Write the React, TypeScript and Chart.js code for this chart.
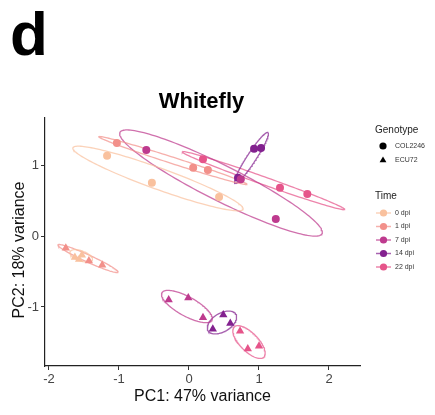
import { useEffect, useRef } from 'react';
import { Chart, registerables } from 'chart.js';

Chart.register(...registerables);

const FONT = '"Liberation Sans", Arial, Helvetica, sans-serif';

// Sampling times and their colours
const times = ['0 dpi', '1 dpi', '7 dpi', '14 dpi', '22 dpi'];
const timeColors = ['#F9C19E', '#F2908A', '#BE3A8E', '#83218F', '#E6548A'];

// Genotypes and the marker used for each
const genotypes = ['COL2246', 'ECU72'];
const genotypeMarkers = ['circle', 'triangle'];

// PCA scores [PC1, PC2], one list per time point
const col2246Scores = [
  [[-1.17, 1.13], [-0.53, 0.75], [0.43, 0.55]],
  [[-1.03, 1.31], [0.06, 0.96], [0.27, 0.93]],
  [[-0.61, 1.21], [0.74, 0.8], [1.24, 0.24]],
  [[0.7, 0.82], [0.93, 1.23], [1.03, 1.24]],
  [[0.2, 1.08], [1.3, 0.68], [1.69, 0.59]],
];
const ecu72Scores = [
  [[-1.63, -0.3], [-1.53, -0.27], [-1.57, -0.33]],
  [[-1.76, -0.17], [-1.43, -0.35], [-1.24, -0.41]],
  [[-0.29, -0.9], [-0.01, -0.87], [0.2, -1.15]],
  [[0.34, -1.31], [0.49, -1.11], [0.59, -1.23]],
  [[0.73, -1.34], [0.84, -1.59], [1.0, -1.55]],
];

// Confidence ellipses [centre PC1, centre PC2, semi-major, semi-minor, angle in degrees]
const col2246Ellipses = [
  [-0.443, 0.81, 1.29, 0.15, -19.6],
  [-0.23, 1.063, 1.11, 0.045, -17.6],
  [0.457, 0.746, 1.61, 0.25, -26.3],
  [0.893, 1.1, 0.43, 0.065, 56.6],
  [1.064, 0.78, 1.23, 0.055, -19.3],
];
const ecu72Ellipses = [
  [-1.54, -0.28, 0.17, 0.07, -20],
  [-1.443, -0.317, 0.47, 0.05, -24.2],
  [-0.03, -0.993, 0.406, 0.136, -28.4],
  [0.471, -1.218, 0.23, 0.13, 30],
  [0.857, -1.493, 0.3, 0.13, -45],
];

// Axes
const xTicks = [-2, -1, 0, 1, 2];
const yTicks = [-1, 0, 1];
const xRange = [-2.057, 2.443];
const yRange = [-1.831, 1.662];

const titleText = 'Whitefly';
const panelLetter = 'd';
const xTitle = 'PC1: 47% variance';
const yTitle = 'PC2: 18% variance';

function withAlpha(hex: string, a: number) {
  const n = parseInt(hex.slice(1), 16);
  return `rgba(${(n >> 16) & 255},${(n >> 8) & 255},${n & 255},${a})`;
}

function ellipseOutline(e: number[]) {
  const [cx, cy, a, b, deg] = e;
  const th = (deg * Math.PI) / 180;
  const pts: { x: number; y: number }[] = [];
  const steps = 160;
  for (let i = 0; i <= steps; i++) {
    const t = (i / steps) * Math.PI * 2;
    pts.push({
      x: cx + a * Math.cos(t) * Math.cos(th) - b * Math.sin(t) * Math.sin(th),
      y: cy + a * Math.cos(t) * Math.sin(th) + b * Math.sin(t) * Math.cos(th),
    });
  }
  return pts;
}

function drawMarker(ctx: CanvasRenderingContext2D, kind: string, x: number, y: number, r: number) {
  ctx.beginPath();
  if (kind === 'circle') {
    ctx.arc(x, y, r, 0, Math.PI * 2);
  } else {
    ctx.moveTo(x, y - r);
    ctx.lineTo(x + r * 0.95, y + r * 0.6);
    ctx.lineTo(x - r * 0.95, y + r * 0.6);
    ctx.closePath();
  }
  ctx.fill();
}

const annotations = {
  id: 'annotations',
  afterDraw(chart: any) {
    const ctx: CanvasRenderingContext2D = chart.ctx;
    ctx.save();
    ctx.textBaseline = 'alphabetic';

    // panel letter
    ctx.fillStyle = '#000';
    ctx.textAlign = 'left';
    ctx.font = `bold 62px ${FONT}`;
    ctx.fillText(panelLetter, 10, 55);

    // plot title
    ctx.textAlign = 'center';
    ctx.font = `bold 22px ${FONT}`;
    ctx.fillText(titleText, 201.5, 108);

    // axis titles
    ctx.font = `16px ${FONT}`;
    ctx.fillStyle = '#111';
    ctx.fillText(xTitle, (chart.chartArea.left + chart.chartArea.right) / 2, 401);
    ctx.save();
    ctx.translate(24, 250);
    ctx.rotate(-Math.PI / 2);
    ctx.fillText(yTitle, 0, 0);
    ctx.restore();

    // legend: genotype
    const lx = 375;
    ctx.textAlign = 'left';
    ctx.fillStyle = '#222';
    ctx.font = `10px ${FONT}`;
    ctx.fillText('Genotype', lx, 133);
    ctx.font = `7px ${FONT}`;
    genotypes.forEach((g, i) => {
      const y = 146 + i * 14;
      ctx.fillStyle = '#000';
      drawMarker(ctx, genotypeMarkers[i], lx + 8, y, 3.6);
      ctx.fillStyle = '#333';
      ctx.textBaseline = 'middle';
      ctx.fillText(g, lx + 20, y);
      ctx.textBaseline = 'alphabetic';
    });

    // legend: time
    ctx.fillStyle = '#222';
    ctx.font = `10px ${FONT}`;
    ctx.fillText('Time', lx, 199);
    ctx.font = `7px ${FONT}`;
    times.forEach((t, i) => {
      const y = 213 + i * 13.5;
      ctx.strokeStyle = withAlpha(timeColors[i], 0.7);
      ctx.lineWidth = 1.5;
      ctx.beginPath();
      ctx.moveTo(lx + 1, y);
      ctx.lineTo(lx + 16, y);
      ctx.stroke();
      ctx.fillStyle = timeColors[i];
      drawMarker(ctx, 'circle', lx + 8.5, y, 3.6);
      ctx.fillStyle = '#333';
      ctx.textBaseline = 'middle';
      ctx.fillText(t, lx + 20, y);
      ctx.textBaseline = 'alphabetic';
    });
    ctx.restore();
  },
};

export default function App() {
  const ref = useRef<HTMLCanvasElement>(null);

  useEffect(() => {
    if (!ref.current) return;
    const datasets: any[] = [];
    const groups = [
      { scores: col2246Scores, ellipses: col2246Ellipses, marker: genotypeMarkers[0], r: 4 },
      { scores: ecu72Scores, ellipses: ecu72Ellipses, marker: genotypeMarkers[1], r: 4.8 },
    ];
    groups.forEach((g, gi) => {
      times.forEach((t, ti) => {
        datasets.push({
          label: `${genotypes[gi]} ${t}`,
          data: g.scores[ti].map(([x, y]) => ({ x, y })),
          pointStyle: g.marker,
          pointRadius: g.r,
          backgroundColor: timeColors[ti],
          borderColor: timeColors[ti],
          borderWidth: 0,
          showLine: false,
          order: 0,
        });
        datasets.push({
          label: `${genotypes[gi]} ${t} ellipse`,
          data: ellipseOutline(g.ellipses[ti]),
          showLine: true,
          pointRadius: 0,
          borderColor: withAlpha(timeColors[ti], 0.72),
          borderWidth: 1.3,
          fill: false,
          tension: 0,
          order: 1,
        });
      });
    });

    const axisCommon = {
      type: 'linear',
      grid: {
        display: true,
        drawOnChartArea: false,
        drawTicks: true,
        tickLength: 4,
        color: '#333',
        lineWidth: 1,
      },
      border: { display: true, color: '#222', width: 1.2 },
      ticks: {
        font: { family: FONT, size: 13 },
        color: '#444',
        padding: 2,
        callback: (v: number) => String(v),
      },
    };

    const chart = new Chart(ref.current, {
      type: 'scatter',
      data: { datasets },
      options: {
        animation: false,
        responsive: false,
        maintainAspectRatio: false,
        layout: { padding: { left: 0, top: 118, right: 75, bottom: 0 } },
        plugins: {
          legend: { display: false },
          tooltip: { enabled: false },
        },
        scales: {
          x: {
            ...axisCommon,
            min: xRange[0],
            max: xRange[1],
            afterBuildTicks: (s: any) => {
              s.ticks = xTicks.map((value) => ({ value }));
            },
            afterFit: (s: any) => {
              s.height = 49;
            },
          },
          y: {
            ...axisCommon,
            min: yRange[0],
            max: yRange[1],
            afterBuildTicks: (s: any) => {
              s.ticks = yTicks.map((value) => ({ value }));
            },
            afterFit: (s: any) => {
              s.width = 45;
            },
          },
        },
      } as any,
      plugins: [annotations],
    });
    return () => chart.destroy();
  }, []);

  return (
    <div style={{ position: 'absolute', left: 0, top: 0, width: 435, height: 415, background: '#fff' }}>
      <canvas ref={ref} width={435} height={415} style={{ width: 435, height: 415, display: 'block' }} />
    </div>
  );
}
